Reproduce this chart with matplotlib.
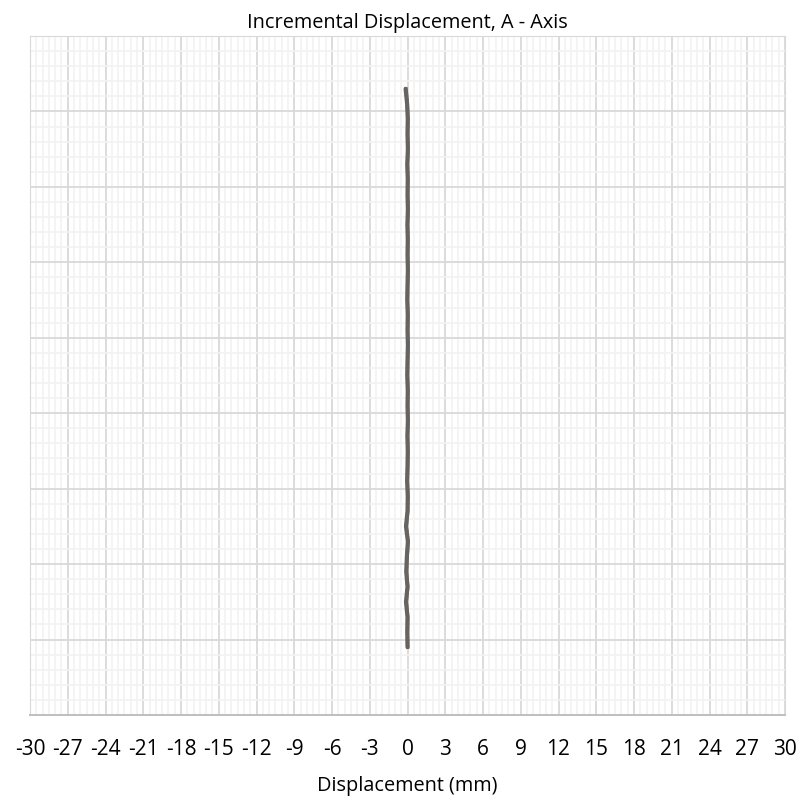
import numpy as np
import matplotlib.pyplot as plt
from matplotlib.ticker import MultipleLocator

# 깊이(m)별 누적 변위(mm) - 그림에서 읽은 값
depth = [3.5, 4.5, 5.5, 6.5, 7.5, 8.5, 9.5, 10.5, 11.5, 12.5, 13.5, 14.5, 15.5,
         16.5, 17.5, 18.5, 19.5, 20.5, 21.5, 22.5, 23.5, 24.5, 25.5, 26.5, 27.5,
         28.5, 29.5, 30.5, 31.5, 32.5, 33.5, 34.5, 35.5, 36.5, 37.5, 38.5, 39.5, 40.5]
disp_a = [-0.15, -0.03, 0.02, 0.0, 0.03, -0.02, 0.02, 0.0, 0.03, -0.01, 0.02, 0.0,
          0.03, 0.0, -0.02, 0.02, 0.0, 0.03, 0.0, -0.02, 0.02, 0.0, 0.03, -0.01,
          0.02, 0.0, -0.03, 0.02, 0.0, -0.12, 0.03, -0.05, -0.1, 0.0, -0.12, 0.0,
          -0.02, 0.0]
disp_b = [-0.12, -0.02, 0.04, 0.01, 0.05, 0.0, 0.03, 0.02, 0.05, 0.01, 0.04, 0.02,
          0.05, 0.02, 0.0, 0.04, 0.02, 0.05, 0.02, 0.0, 0.04, 0.02, 0.05, 0.01,
          0.04, 0.02, -0.01, 0.04, 0.02, -0.1, 0.05, -0.03, -0.08, 0.02, -0.1, 0.02,
          0.0, 0.02]
x_ticks = list(range(-30, 31, 3))

plt.rcParams['font.family'] = ['Open Sans', 'DejaVu Sans']

fig = plt.figure(figsize=(8.01, 8.01), dpi=100)
ax = fig.add_axes([30 / 801, 1 - 715 / 801, 755 / 801, 679 / 801])

ax.plot(disp_b, depth, color='#c0733a', linewidth=2.5, zorder=3)
ax.plot(disp_a, depth, color='#646464', linewidth=3.0, zorder=4,
        solid_capstyle='round')

ax.set_xlim(-30, 30)
ax.set_ylim(45, 0)
ax.set_xticks(x_ticks)
ax.set_xticklabels([str(t) for t in x_ticks])
ax.xaxis.set_minor_locator(MultipleLocator(0.5))
ax.yaxis.set_major_locator(MultipleLocator(5))
ax.yaxis.set_minor_locator(MultipleLocator(1))
ax.set_yticklabels([])

ax.grid(which='major', color='#d9d9d9', linewidth=1.3, zorder=1)
ax.grid(which='minor', color='#f2f2f2', linewidth=1.2, zorder=0)
ax.set_axisbelow(True)
ax.tick_params(which='both', length=0)
ax.tick_params(axis='x', labelsize=15, pad=17.3, colors='black')

for side in ['top', 'left', 'right']:
    ax.spines[side].set_color('#d9d9d9')
ax.spines['bottom'].set_color('#bfbfbf')
ax.spines['bottom'].set_linewidth(1.4)

ax.set_title('Incremental Displacement, A - Axis', fontsize=14.3, pad=5.8)
ax.set_xlabel('Displacement (mm)', fontsize=14.3, labelpad=11.5)

fig.savefig('out.png', dpi=100)
